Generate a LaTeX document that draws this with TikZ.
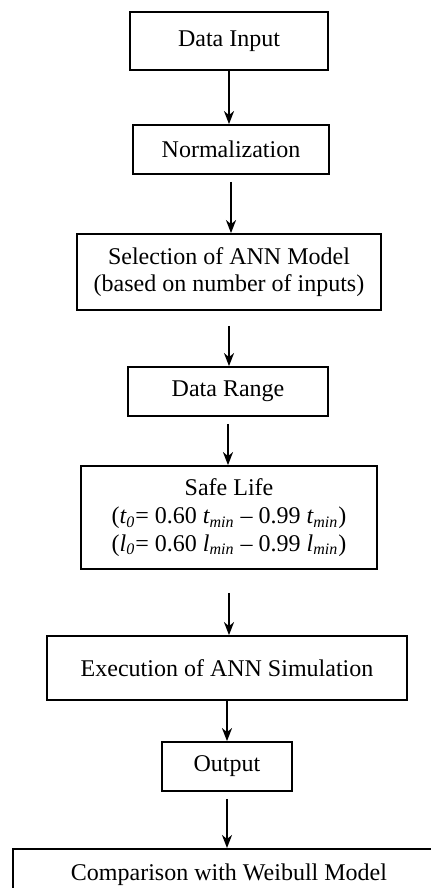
\documentclass[tikz,border=0pt]{standalone}
\usepackage{fontspec}
\setmainfont{Liberation Serif}
\usetikzlibrary{arrows.meta}

\begin{document}
\begin{tikzpicture}[x=0.5pt, y=-0.5pt,
  stage/.style={draw=black, line width=0.9pt, align=center, inner sep=0pt,
    font=\fontsize{12}{13.8}\selectfont},
  flow/.style={line width=0.9pt, -{Stealth[length=6.5pt, width=5pt, inset=2pt]}}]
%\draw[help lines] (0,0) grid[step=50] (430,888);
\useasboundingbox (0,0) rectangle (430,888);

\node[stage, minimum width=99pt, minimum height=29pt] (input) at (229,41) {Data Input};
\node[stage, minimum width=98pt, minimum height=24.5pt] (norm) at (231,149.5) {Normalization};
\node[stage, minimum width=152pt, minimum height=38pt] (select) at (229,272)
  {Selection of ANN Model\\(based on number of inputs)};
\node[stage, minimum width=100pt, minimum height=24.5pt] (range) at (228,391.5) {Data Range};
\node[stage, minimum width=148pt, minimum height=51.5pt] (safe) at (229,517.5)
  {Safe Life\\
   (\textit{t\textsubscript{0}}= 0.60 \textit{t\textsubscript{min}} -- 0.99 \textit{t\textsubscript{min}})\\
   (\textit{l\textsubscript{0}}= 0.60 \textit{l\textsubscript{min}} -- 0.99 \textit{l\textsubscript{min}})};
\node[stage, minimum width=180pt, minimum height=32pt] (exec) at (227,668) {Execution of ANN Simulation};
\node[stage, minimum width=65pt, minimum height=24.5pt] (output) at (227,766.5) {Output};
\node[stage, minimum width=216pt, inner ysep=7.5pt, anchor=north] (weibull) at (229,848)
  {Comparison with Weibull Model};

\foreach \a/\b/\g in {input/norm/0pt, norm/select/3.5pt, select/range/7.5pt,
    range/safe/3.5pt, safe/exec/11.5pt, exec/output/0pt, output/weibull/3.5pt}
  \draw[flow, shorten <=\g] (\a.south) -- (\a.south |- \b.north);
\end{tikzpicture}
\end{document}
